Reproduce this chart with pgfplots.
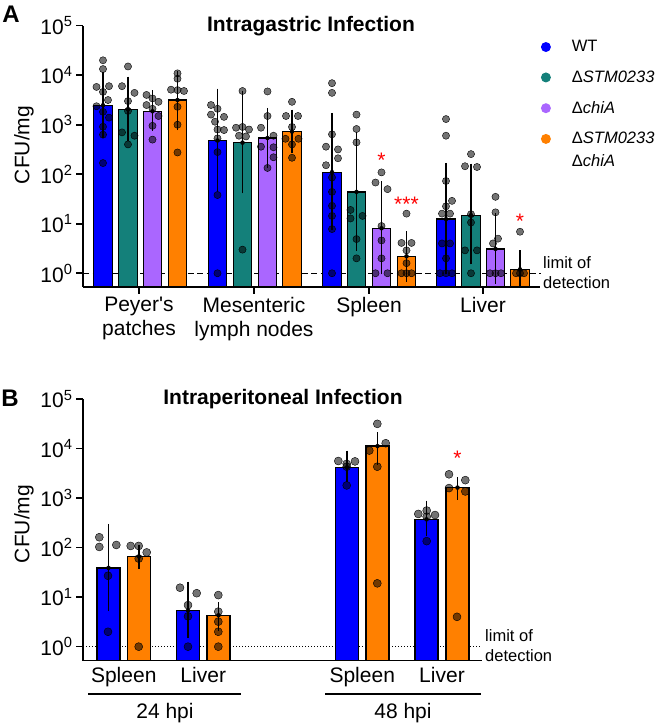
\documentclass[border=0pt]{standalone}
\usepackage{pgfplots}
\pgfplotsset{compat=1.18}
\usepackage{fontspec}
\setmainfont{Liberation Sans}
\definecolor{cWT}{HTML}{0000FF}
\definecolor{cSTM}{HTML}{14807A}
\definecolor{cchi}{HTML}{AA66FF}
\definecolor{cdbl}{HTML}{FF8000}
\newcommand\fs{\fontsize{21}{23.5}\selectfont}
\newcommand\fsl{\fontsize{16.5}{20}\selectfont}
\pgfplotsset{
  dots/.style={only marks, mark=*, mark size=#1, mark options={draw=none, fill=black, fill opacity=0.55}, forget plot},
  bars/.style={ybar, bar shift=0pt, draw=black, line width=1.3pt, fill=#1},
  errs/.style={only marks, mark=none, forget plot, error bars/.cd, y dir=both, y explicit, error bar style={black, line width=1.3pt}, error mark options={black, line width=1.3pt, mark size=5pt}},
}
\begin{document}
\begin{tikzpicture}[x=1pt,y=1pt]
\useasboundingbox (0,0) rectangle (660,725);

% ---------------- Panel A ----------------
\begin{axis}[
  scale only axis, ymode=log, log origin=infty, ymax=1e5,
  axis x line*=bottom, axis y line*=left,
  axis line style={-, line width=1.6pt},
  tick style={black, line width=1.6pt},
  tick align=outside, major tick length=7pt,
  ytick={1,10,100,1000,10000,100000},
  yticklabels={10\textsuperscript{0},10\textsuperscript{1},10\textsuperscript{2},10\textsuperscript{3},10\textsuperscript{4},10\textsuperscript{5}},
  yminorticks=false,
  yticklabel style={font=\fs},
  clip=false,
  at={(83pt,438pt)}, anchor=south west, width=457pt, height=261.3pt,
  xmin=83, xmax=540, ymin=0.528, bar width=18.5,
  xtick={139,254,369,483},
  xticklabels={Peyer\textquotesingle s\\patches, Mesenteric\\lymph nodes, Spleen, Liver},
  xticklabel style={align=center, font=\fs},
  legend cell align=left,
  legend style={at={(rel axis cs:1.002,0.943)}, anchor=north west, draw=none, fill=none,
    inner sep=0pt, outer sep=0pt, row sep=17.5pt, column sep=21pt, font=\fsl,
    nodes={inner sep=0pt}},
]
\addplot[black, dash pattern=on 6pt off 3.5pt, line width=1.2pt, forget plot] coordinates {(83,1) (541,1)};

\addplot[bars=cWT, legend image code/.code={\fill[cWT, draw=none] (5pt,0pt) circle (5pt);}]
  coordinates {(103,2470) (217.5,480) (332,110) (446,12.4)};
\addlegendentry{WT}
\addplot[bars=cSTM, legend image code/.code={\fill[cSTM, draw=none] (5pt,0pt) circle (5pt);}]
  coordinates {(128,2050) (242.5,435) (356.5,44) (471,14.9)};
\addlegendentry{Δ\textit{STM0233}}
\addplot[bars=cchi, legend image code/.code={\fill[cchi, draw=none] (5pt,0pt) circle (5pt);}]
  coordinates {(152.5,1870) (267.5,540) (381.5,8.1) (495.5,3.1)};
\addlegendentry{Δ\textit{chiA}}
\addplot[bars=cdbl, legend image code/.code={\fill[cdbl, draw=none] (5pt,0pt) circle (5pt);}]
  coordinates {(177.5,3150) (292,725) (406.5,2.2) (520,1.2)};
\addlegendentry{\smash{\makebox[0pt][l]{\raisebox{-23pt}{Δ\textit{chiA}}}}Δ\textit{STM0233}}

% individual points: Peyer's patches
\addplot[dots=3.6pt] coordinates {(103,20000) (103,13300) (96.5,5800) (109,6000) (103,4600) (108,3150) (96.5,2360) (103,1820) (109,1390) (103,910) (103,630) (103,168)};
\addplot[dots=3.6pt] coordinates {(128,15000) (122,6000) (134.5,4400) (128,3000) (128,1900) (122,700) (134.5,600) (128,400)};
\addplot[dots=3.6pt] coordinates {(146.5,4000) (152.5,3400) (158.5,2900) (146.5,2500) (152.5,2100) (158.5,1500) (152.5,950) (152.5,500)};
\addplot[dots=3.6pt] coordinates {(177.5,10900) (177.5,8500) (171,5100) (177.5,5000) (184,4800) (177.5,2300) (177.5,1000) (177.5,275)};
% mesenteric lymph nodes
\addplot[dots=3.6pt] coordinates {(211,2500) (217.5,2100) (211,1600) (224,1440) (215,1150) (217.5,800) (224,780) (217.5,530) (217.5,280) (217.5,38) (217.5,1)};
\addplot[dots=3.6pt] coordinates {(242.5,4800) (236,870) (242.5,900) (249,800) (239,600) (246,580) (242.5,3.0)};
\addplot[dots=3.6pt] coordinates {(267.5,4700) (267.5,1500) (261,870) (273.5,600) (261,360) (273.5,350) (273.5,220) (267.5,134)};
\addplot[dots=3.6pt] coordinates {(292,2900) (286,1500) (298,1500) (292,900) (285.5,520) (298.5,520) (292,400) (292,215)};
% spleen
\addplot[dots=3.6pt] coordinates {(332,6900) (332,4400) (332,640) (326,360) (338,317) (338,210) (326,152) (332,86) (332,44) (332,23) (332,14.4) (332,7.8) (332,1)};
\addplot[dots=3.6pt] coordinates {(356.5,1600) (356.5,820) (356.5,440) (350.5,19) (362.5,14.4) (350.5,12.8) (356.5,4.9) (356.5,2.0)};
\addplot[dots=3.6pt] coordinates {(381.5,109) (375.5,68) (387.5,50) (381.5,9.0) (381.5,4.6) (381.5,2.0) (375.5,1) (387.5,1)};
\addplot[dots=3.6pt] coordinates {(406.5,16) (401.5,4.1) (411.5,4.1) (406.5,2.9) (406.5,1.6) (401.5,1) (406.5,1) (411.5,1)};
% liver
\addplot[dots=3.6pt] coordinates {(446,1300) (446,600) (446,73) (452,29) (446,22.5) (442,16) (450,16) (442,4.0) (450,4.0) (446,2.0) (440,1) (446,1) (452,1)};
\addplot[dots=3.6pt] coordinates {(471,255) (465,145) (477,140) (471,15.6) (471,10.6) (465,2.9) (477,2.9) (471,1)};
\addplot[dots=3.6pt] coordinates {(495.5,35) (495.5,17) (498,5.0) (493,4.0) (490,1) (495.5,1) (501,1)};
\addplot[dots=3.6pt] coordinates {(520,6.9) (516,1) (520,1) (524,1)};

% error bars (mean, +, -)
\addplot[errs] table[x=x, y=y, y error plus=ep, y error minus=em] {
x y ep em
103 2470 6830 1790
217.5 480 3790 423
332 110 1260 100.5
446 12.4 121.6 11.2
128 2050 5350 1465
242.5 435 3415 383
356.5 44 521 40.4
471 14.9 115.1 13
152.5 1870 2030 920
267.5 540 1190 371
381.5 8.1 48.9 6.9
495.5 3.1 10.1 2.33
177.5 3150 6450 2170
292 725 875 390
406.5 2.2 3.4 1.35
520 1.2 1.1 0.55
};

\node[red, font=\fs, yshift=-4.5pt] at (axis cs:381.5,240) {*};
\node[red, font=\fs, yshift=-4.5pt] at (axis cs:406.5,30) {***};
\node[red, font=\fs, yshift=-4.5pt] at (axis cs:520,13.9) {*};
\end{axis}

% ---------------- Panel B ----------------
\begin{axis}[
  scale only axis, ymode=log, log origin=infty, ymax=1e5,
  axis x line*=bottom, axis y line*=left,
  axis line style={-, line width=1.6pt},
  tick style={black, line width=1.6pt},
  tick align=outside, major tick length=7pt,
  ytick={1,10,100,1000,10000,100000},
  yticklabels={10\textsuperscript{0},10\textsuperscript{1},10\textsuperscript{2},10\textsuperscript{3},10\textsuperscript{4},10\textsuperscript{5}},
  yminorticks=false,
  yticklabel style={font=\fs},
  clip=false,
  at={(83pt,64.3pt)}, anchor=south west, width=399pt, height=261.7pt,
  xmin=83, xmax=482, ymin=0.521, bar width=23,
  xtick={123.75,203.25,362.25,442},
  xticklabels={Spleen,Liver,Spleen,Liver},
  xtick style={draw=none},
  xticklabel style={font=\fs, yshift=4pt},
]
\addplot[black, dash pattern=on 1.2pt off 1.8pt, line width=1pt, forget plot] coordinates {(83,1) (480,1)};
\addplot[bars=cWT, forget plot] coordinates {(108.5,39) (188,5.4) (347,4190) (426.5,372)};
\addplot[bars=cdbl, forget plot] coordinates {(139,66) (218.5,4.3) (377.5,11200) (457.5,1630)};

\addplot[dots=4pt] coordinates {(99.3,162) (116.3,113) (99.3,103) (108,27) (108,2.0)};
\addplot[dots=4pt] coordinates {(130.7,108) (138.7,108) (146.7,80) (138.7,60) (138.7,1)};
\addplot[dots=4pt] coordinates {(180,15.5) (196.7,12) (188,6.9) (188,4.1) (188,1)};
\addplot[dots=4pt] coordinates {(218.3,11) (218.3,5.1) (218.3,3.2) (218.3,2.0) (218.3,1)};
\addplot[dots=4pt] coordinates {(338.3,5600) (355,5500) (346.7,4900) (346.7,4300) (346.7,1800)};
\addplot[dots=4pt] coordinates {(377.3,31500) (385.7,12800) (369.3,9100) (377.3,4300) (377.3,19)};
\addplot[dots=4pt] coordinates {(418.3,478) (426.7,560) (435,455) (426.7,420) (426.7,135)};
\addplot[dots=4pt] coordinates {(449,3020) (465.3,2300) (449,1590) (465.3,1360) (457,4.0)};

\addplot[errs] table[x=x, y=y, y error plus=ep, y error minus=em] {
x y ep em
108.5 39 201 32.4
188 5.4 10.9 3.5
347 4190 3010 1560
426.5 372 333 159
139 66 23 19
218.5 4.3 1.9 1.65
377.5 11200 5800 5300
457.5 1630 470 450
};
\node[red, font=\fs, yshift=-4.5pt] at (axis cs:457.5,8000) {*};
\end{axis}

% ---------------- annotations ----------------
\node[font=\fontsize{24}{26}\selectfont\bfseries] at (11,711) {A};
\node[font=\fontsize{24}{26}\selectfont\bfseries] at (10,327) {B};
\node[font=\fs\bfseries] at (311,699) {Intragastric Infection};
\node[font=\fs\bfseries] at (283,326) {Intraperitoneal Infection};
\node[font=\fs, rotate=90] at (24,580) {CFU/mg};
\node[font=\fs, rotate=90] at (24,201) {CFU/mg};
\node[font=\fsl, align=left, anchor=west, inner sep=0pt] at (543,452) {limit of\\detection};
\node[font=\fsl, align=left, anchor=west, inner sep=0pt] at (485,79.5) {limit of\\detection};
\draw[line width=1.6pt] (88,31) -- (241,31);
\draw[line width=1.6pt] (325,31) -- (481,31);
\node[font=\fs] at (165,12) {24 hpi};
\node[font=\fs] at (403,12) {48 hpi};
\end{tikzpicture}
\end{document}
